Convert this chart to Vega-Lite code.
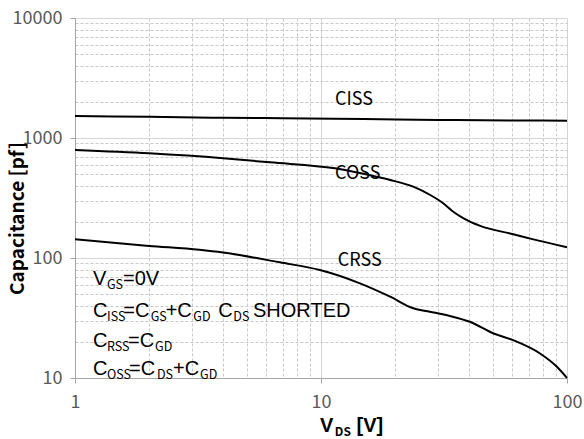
{
  "$schema": "https://vega.github.io/schema/vega-lite/v6.json",
  "autosize": "none",
  "width": 492,
  "height": 360,
  "padding": {"left": 75, "top": 18, "right": 17, "bottom": 61},
  "background": "white",
  "config": {"view": {"stroke": null}, "font": "Noto Sans CJK SC"},
  "datasets": {
    "curves": [
      {"series": "CISS", "vds": 1, "cap": 1525}, {"series": "CISS", "vds": 2, "cap": 1500}, {"series": "CISS", "vds": 4, "cap": 1475}, {"series": "CISS", "vds": 7, "cap": 1460}, {"series": "CISS", "vds": 15, "cap": 1440}, {"series": "CISS", "vds": 30, "cap": 1415}, {"series": "CISS", "vds": 60, "cap": 1400}, {"series": "CISS", "vds": 100, "cap": 1395},
      {"series": "COSS", "vds": 1, "cap": 794}, {"series": "COSS", "vds": 2, "cap": 745}, {"series": "COSS", "vds": 4, "cap": 678}, {"series": "COSS", "vds": 6.2, "cap": 627}, {"series": "COSS", "vds": 11.4, "cap": 559}, {"series": "COSS", "vds": 16.8, "cap": 476}, {"series": "COSS", "vds": 19.1, "cap": 447}, {"series": "COSS", "vds": 23.7, "cap": 393}, {"series": "COSS", "vds": 27.8, "cap": 335}, {"series": "COSS", "vds": 31.4, "cap": 286}, {"series": "COSS", "vds": 34.5, "cap": 243}, {"series": "COSS", "vds": 38, "cap": 214}, {"series": "COSS", "vds": 44.4, "cap": 185}, {"series": "COSS", "vds": 60.5, "cap": 158}, {"series": "COSS", "vds": 73, "cap": 143}, {"series": "COSS", "vds": 100, "cap": 123},
      {"series": "CRSS", "vds": 1, "cap": 143}, {"series": "CRSS", "vds": 2, "cap": 126}, {"series": "CRSS", "vds": 3.2, "cap": 117}, {"series": "CRSS", "vds": 4, "cap": 111}, {"series": "CRSS", "vds": 6.8, "cap": 92}, {"series": "CRSS", "vds": 9.9, "cap": 79.4}, {"series": "CRSS", "vds": 14.4, "cap": 61.5}, {"series": "CRSS", "vds": 19.1, "cap": 47.6}, {"series": "CRSS", "vds": 23.7, "cap": 38.1}, {"series": "CRSS", "vds": 27.7, "cap": 35.7}, {"series": "CRSS", "vds": 33.4, "cap": 32.9}, {"series": "CRSS", "vds": 40.3, "cap": 29.4}, {"series": "CRSS", "vds": 50, "cap": 23.6}, {"series": "CRSS", "vds": 60.3, "cap": 20.7}, {"series": "CRSS", "vds": 77.7, "cap": 16}, {"series": "CRSS", "vds": 91, "cap": 12.4}, {"series": "CRSS", "vds": 100, "cap": 10}
    ],
    "labels": [
      {"t": "CISS", "vds": 11.4, "cap": 1884},
      {"t": "COSS", "vds": 11.4, "cap": 453},
      {"t": "CRSS", "vds": 11.7, "cap": 86.3}
    ],
    "notes": [
      {"t": "V", "kind": "main", "vds": 1.184, "cap": 59.6},
      {"t": "GS", "kind": "sub", "vds": 1.349, "cap": 59.6},
      {"t": "=0V", "kind": "main", "vds": 1.567, "cap": 59.6},
      {"t": "C", "kind": "main", "vds": 1.184, "cap": 32.2},
      {"t": "ISS", "kind": "sub", "vds": 1.349, "cap": 32.2},
      {"t": "=C", "kind": "main", "vds": 1.572, "cap": 32.2},
      {"t": "GS", "kind": "sub", "vds": 2.031, "cap": 32.2},
      {"t": "+C", "kind": "main", "vds": 2.337, "cap": 32.2},
      {"t": "GD", "kind": "sub", "vds": 3.027, "cap": 32.2},
      {"t": "C", "kind": "main", "vds": 3.824, "cap": 32.2},
      {"t": "DS", "kind": "sub", "vds": 4.401, "cap": 32.2},
      {"t": "SHORTED", "kind": "main", "vds": 5.291, "cap": 32.2},
      {"t": "C", "kind": "main", "vds": 1.184, "cap": 18.1},
      {"t": "RSS", "kind": "sub", "vds": 1.349, "cap": 18.1},
      {"t": "=C", "kind": "main", "vds": 1.642, "cap": 18.1},
      {"t": "GD", "kind": "sub", "vds": 2.115, "cap": 18.1},
      {"t": "C", "kind": "main", "vds": 1.184, "cap": 10.6},
      {"t": "OSS", "kind": "sub", "vds": 1.349, "cap": 10.6},
      {"t": "=C", "kind": "main", "vds": 1.658, "cap": 10.6},
      {"t": "DS", "kind": "sub", "vds": 2.154, "cap": 10.6},
      {"t": "+C", "kind": "main", "vds": 2.502, "cap": 10.6},
      {"t": "GD", "kind": "sub", "vds": 3.223, "cap": 10.6}
    ],
    "xtitle": [
      {"t": "V", "kind": "main", "vds": 9.907, "cap": 3.57},
      {"t": "DS", "kind": "sub", "vds": 11.38, "cap": 3.57},
      {"t": "[V]", "kind": "main", "vds": 13.95, "cap": 3.57}
    ]
  },
  "layer": [
    {
      "data": {"name": "curves"},
      "mark": {"type": "line", "color": "black", "strokeWidth": 2, "interpolate": "monotone", "clip": false},
      "encoding": {
        "x": {
          "field": "vds", "type": "quantitative",
          "scale": {"type": "log", "domain": [1, 100], "nice": false},
          "axis": {
            "title": null,
            "values": [1, 2, 3, 4, 5, 6, 7, 8, 9, 10, 20, 30, 40, 50, 60, 70, 80, 90, 100],
            "format": "d",
            "labelExpr": "indexof([1,10,100], datum.value) >= 0 ? datum.label : ''",
            "labelOverlap": false,
            "labelFlush": false,
            "labelFont": "Noto Sans CJK SC",
            "labelFontSize": 18,
            "labelColor": "#595959",
            "labelPadding": 10,
            "tickSize": 5,
            "tickColor": "#a6a6a6",
            "tickOpacity": {"condition": {"test": "indexof([1,10,100], datum.value) >= 0", "value": 1}, "value": 0},
            "domainColor": "#a6a6a6",
            "grid": true,
            "gridColor": {"condition": {"test": "indexof([1,10,100], datum.value) >= 0", "value": "#d4d4d4"}, "value": "#c8c8c8"},
            "gridDash": {"condition": {"test": "indexof([1,10,100], datum.value) < 0", "value": [3, 2]}, "value": []},
            "gridWidth": 1
          }
        },
        "y": {
          "field": "cap", "type": "quantitative",
          "scale": {"type": "log", "domain": [10, 10000], "nice": false},
          "axis": {
            "title": "Capacitance [pf]",
            "titleFont": "Noto Sans CJK SC",
            "titleFontSize": 19,
            "titleFontWeight": "bold",
            "titleColor": "black",
            "titleAngle": -90,
            "titleX": -58,
            "titleY": 200,
            "titleBaseline": "middle",
            "titleAlign": "center",
            "values": [10, 20, 30, 40, 50, 60, 70, 80, 90, 100, 200, 300, 400, 500, 600, 700, 800, 900, 1000, 2000, 3000, 4000, 5000, 6000, 7000, 8000, 9000, 10000],
            "format": "d",
            "labelExpr": "indexof([10,100,1000,10000], datum.value) >= 0 ? datum.label : ''",
            "labelOverlap": false,
            "labelFlush": false,
            "labelFont": "Noto Sans CJK SC",
            "labelFontSize": 18,
            "labelColor": "#595959",
            "labelPadding": 8,
            "tickSize": 5,
            "tickColor": "#a6a6a6",
            "tickOpacity": {"condition": {"test": "indexof([10,100,1000,10000], datum.value) >= 0", "value": 1}, "value": 0},
            "domainColor": "#a6a6a6",
            "grid": true,
            "gridColor": {"condition": {"test": "indexof([10,100,1000,10000], datum.value) >= 0", "value": "#d4d4d4"}, "value": "#c8c8c8"},
            "gridDash": {"condition": {"test": "indexof([10,100,1000,10000], datum.value) < 0", "value": [3, 2]}, "value": []},
            "gridWidth": 1
          }
        },
        "detail": {"field": "series"}
      }
    },
    {
      "data": {"name": "labels"},
      "mark": {"type": "text", "align": "left", "baseline": "alphabetic", "fontSize": 18, "color": "black", "font": "Noto Sans CJK SC"},
      "encoding": {
        "x": {"field": "vds", "type": "quantitative"},
        "y": {"field": "cap", "type": "quantitative"},
        "text": {"field": "t"}
      }
    },
    {
      "data": {"name": "notes"},
      "transform": [{"filter": "datum.kind == 'main'"}],
      "mark": {"type": "text", "align": "left", "baseline": "alphabetic", "fontSize": 20, "color": "black", "font": "Liberation Sans"},
      "encoding": {
        "x": {"field": "vds", "type": "quantitative"},
        "y": {"field": "cap", "type": "quantitative"},
        "text": {"field": "t"}
      }
    },
    {
      "data": {"name": "notes"},
      "transform": [{"filter": "datum.kind == 'sub'"}],
      "mark": {"type": "text", "align": "left", "baseline": "alphabetic", "fontSize": 12.5, "dy": 4, "color": "black", "font": "Noto Sans CJK SC"},
      "encoding": {
        "x": {"field": "vds", "type": "quantitative"},
        "y": {"field": "cap", "type": "quantitative"},
        "text": {"field": "t"}
      }
    },
    {
      "data": {"name": "xtitle"},
      "transform": [{"filter": "datum.kind == 'main'"}],
      "mark": {"type": "text", "align": "left", "baseline": "alphabetic", "fontSize": 20, "fontWeight": "bold", "color": "black", "font": "Liberation Sans"},
      "encoding": {
        "x": {"field": "vds", "type": "quantitative"},
        "y": {"field": "cap", "type": "quantitative"},
        "text": {"field": "t"}
      }
    },
    {
      "data": {"name": "xtitle"},
      "transform": [{"filter": "datum.kind == 'sub'"}],
      "mark": {"type": "text", "align": "left", "baseline": "alphabetic", "fontSize": 12, "fontWeight": "bold", "dy": 4, "color": "black", "font": "Noto Sans CJK SC"},
      "encoding": {
        "x": {"field": "vds", "type": "quantitative"},
        "y": {"field": "cap", "type": "quantitative"},
        "text": {"field": "t"}
      }
    }
  ]
}
